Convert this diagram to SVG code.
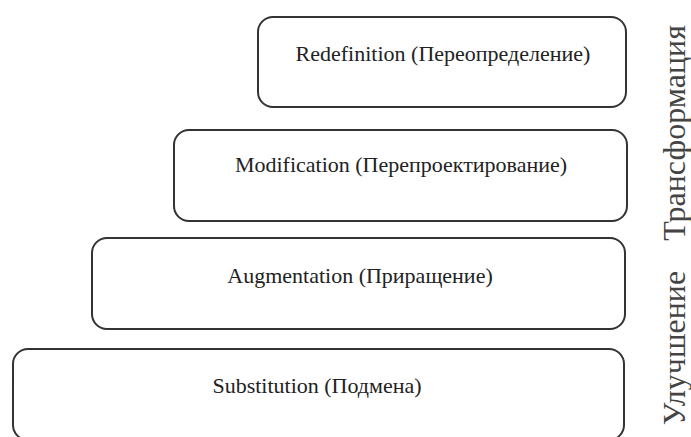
<svg xmlns="http://www.w3.org/2000/svg" width="691" height="437" viewBox="0 0 691 437">
<style>
.box{fill:#fff;stroke:#333;stroke-width:2}
.lbl{font-family:"Liberation Serif","Times New Roman",serif;font-size:22px;fill:#222;text-anchor:middle}
.side{font-family:"Liberation Serif","Times New Roman",serif;font-size:32px;fill:#444;text-anchor:middle}
</style>
<rect width="691" height="437" fill="#fff"/>
<g id="redefinition">
<rect class="box" x="258" y="17" width="368" height="90" rx="15"/>
<text class="lbl" x="443" y="61">Redefinition (Переопределение)</text>
</g>
<g id="modification">
<rect class="box" x="174" y="130" width="453" height="91" rx="15"/>
<text class="lbl" x="401" y="172">Modification (Перепроектирование)</text>
</g>
<g id="augmentation">
<rect class="box" x="92" y="238" width="533" height="91" rx="15"/>
<text class="lbl" x="360" y="283">Augmentation (Приращение)</text>
</g>
<g id="substitution">
<rect class="box" x="13" y="349" width="611" height="91" rx="15"/>
<text class="lbl" x="317" y="393">Substitution (Подмена)</text>
</g>
<g id="connectors"></g>
<g id="side-labels">
<text class="side" transform="translate(685,133) rotate(-90)">Трансформация</text>
<text class="side" transform="translate(685,348) rotate(-90)">Улучшение</text>
</g>
</svg>
